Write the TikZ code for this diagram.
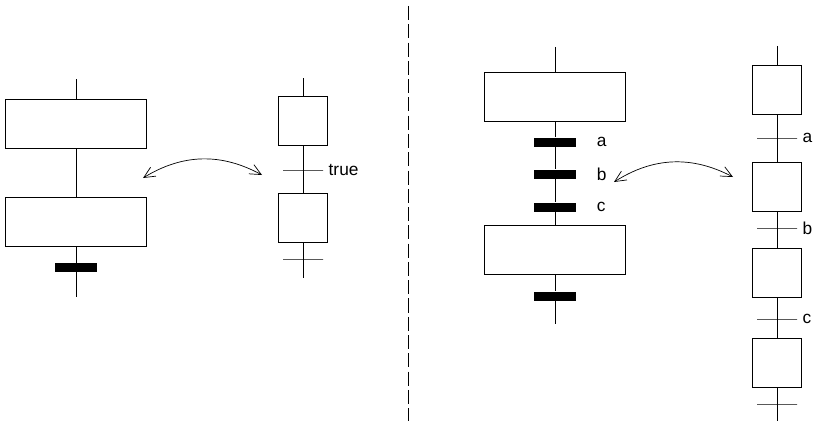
\documentclass[tikz,border=0pt]{standalone}
\usepackage{fontspec}
\setmainfont{Liberation Sans}
\usetikzlibrary{arrows.meta}

\begin{document}
\begin{tikzpicture}[x=0.025cm,y=-0.025cm,line width=0.7pt,
    font=\fontsize{12.3}{14}\selectfont,
    >={Straight Barb[length=2.8mm,width=2.6mm]},
    bigstep/.style={draw,minimum width=3.525cm,minimum height=1.225cm,inner sep=0pt},
    smallstep/.style={draw,minimum width=1.225cm,minimum height=1.225cm,inner sep=0pt},
    bar/.style={fill=black,minimum width=1.05cm,minimum height=0.225cm,inner sep=0pt},
    tick/.style={draw,minimum width=1cm,minimum height=0pt,inner sep=0pt,label distance=0.2cm}]
    \useasboundingbox (0,0) rectangle (819,427);

    % left: big steps
    \coordinate (a0) at (76,79);
    \node[bigstep] (s1) at (76,123.5) {};
    \node[bigstep] (s2) at (76,221.5) {};
    \node[bar] (t1) at (76,267.5) {};
    \coordinate (a1) at (76,297);
    \draw (a0) -- (s1) -- (s2) -- (t1) -- (a1);

    % left: small steps
    \coordinate (b0) at (303,78);
    \node[smallstep] (s3) at (303,120.5) {};
    \node[tick,label=right:true] (t2) at (303,170) {};
    \node[smallstep] (s4) at (303,217.5) {};
    \node[tick] (t3) at (303,259) {};
    \coordinate (b1) at (303,278);
    \draw (b0) -- (s3) -- (t2) -- (s4) -- (t3) -- (b1);

    \coordinate (l1) at (143,178);
    \coordinate (l2) at (262,175);
    \draw[<->,line width=0.5pt] (l1) to[bend left=30] (l2);

    % separator
    \coordinate (m0) at (408,6);
    \coordinate (m1) at (408,421);
    \draw[dash pattern=on 10pt off 3pt] (m0) -- (m1);

    % right: big steps with a, b, c
    \coordinate (c0) at (555,47);
    \node[bigstep] (s5) at (555,96.5) {};
    \node[bar,label={[label distance=0.38cm]right:a}] (t4) at (555,142) {};
    \node[bar,label={[label distance=0.38cm]right:b}] (t5) at (555,174) {};
    \node[bar,label={[label distance=0.38cm]right:c}] (t6) at (555,207) {};
    \node[bigstep] (s6) at (555,250) {};
    \node[bar] (t7) at (555,296) {};
    \coordinate (c1) at (555,324);
    \draw (c0) -- (s5) -- (t4) -- (t5) -- (t6) -- (s6) -- (t7) -- (c1);

    % right: small steps
    \coordinate (d0) at (777,46);
    \node[smallstep] (s7) at (777,89.5) {};
    \node[tick,label=right:a] (t8) at (777,138) {};
    \node[smallstep] (s8) at (777,186.5) {};
    \node[tick,label=right:b] (t9) at (777,228) {};
    \node[smallstep] (s9) at (777,273) {};
    \node[tick,label=right:c] (t10) at (777,319) {};
    \node[smallstep] (s10) at (777,362.5) {};
    \node[tick] (t11) at (777,404) {};
    \coordinate (d1) at (777,421);
    \draw (d0) -- (s7) -- (t8) -- (s8) -- (t9) -- (s9) -- (t10) -- (s10) -- (t11) -- (d1);

    \coordinate (r1) at (614,182);
    \coordinate (r2) at (733,177);
    \draw[<->,line width=0.5pt] (r1) to[bend left=30] (r2);
\end{tikzpicture}
\end{document}
